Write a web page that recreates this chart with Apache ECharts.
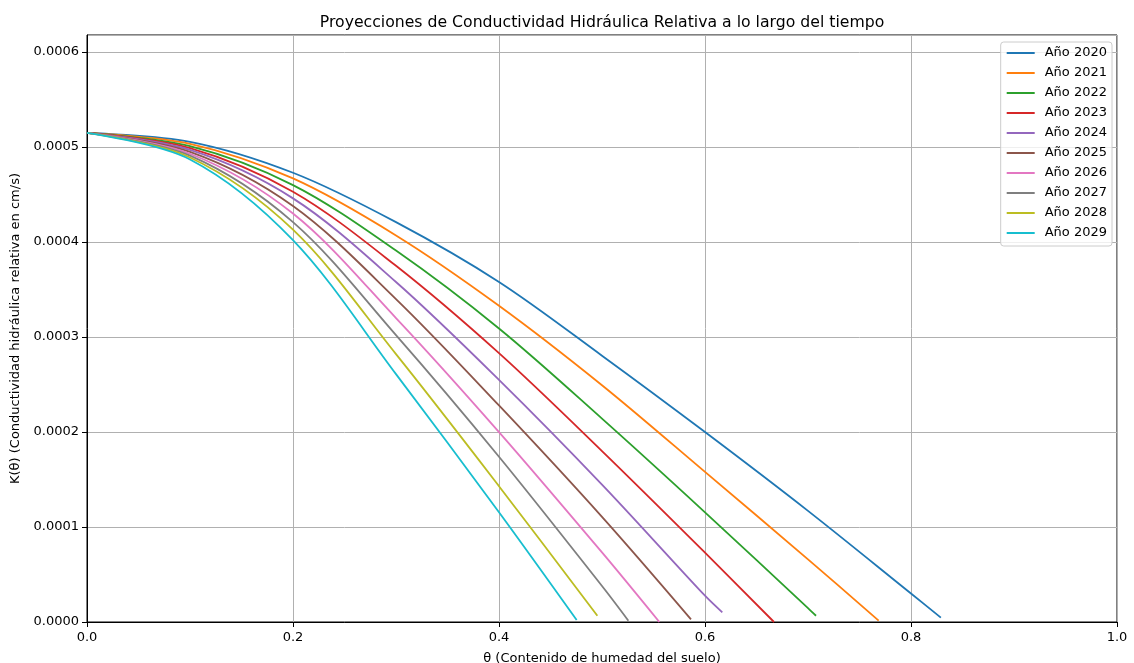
<!DOCTYPE html>
<html>
<head>
<meta charset="utf-8">
<script src="https://cdn.jsdelivr.net/npm/echarts@6/dist/echarts.min.js"></script>
<style>
html,body{margin:0;padding:0;background:#fff;}
#chart{width:1134px;height:663px;}
</style>
</head>
<body>
<div id="chart"></div>
<script>
const years = ['Año 2020','Año 2021','Año 2022','Año 2023','Año 2024','Año 2025','Año 2026','Año 2027','Año 2028','Año 2029'];
const colors = ['#1f77b4','#ff7f0e','#2ca02c','#d62728','#9467bd','#8c564b','#e377c2','#7f7f7f','#bcbd22','#17becf'];
const theta = [0, 0.1, 0.2, 0.3, 0.4, 0.5, 0.6, 0.7, 0.8];
const k2020 = [0.000515, 0.0005056, 0.000473, 0.000421, 0.000358, 0.0002804, 0.0002, 0.000117, 0.00003];
const k2021 = [0.000515, 0.0005035, 0.000467, 0.000407, 0.000333, 0.0002493, 0.000158, 0.000066];
const k2022 = [0.000515, 0.000501, 0.00046, 0.000391, 0.000309, 0.0002141, 0.0001155, 0.0000147];
const k2023 = [0.000515, 0.000499, 0.000453, 0.000375, 0.000283, 0.0001799, 0.000073];
const k2024 = [0.000515, 0.000497, 0.000446, 0.000358, 0.000255, 0.0001447, 0.0000277];
const k2025 = [0.000515, 0.000495, 0.000438, 0.00034, 0.000228, 0.0001107];
const k2026 = [0.000515, 0.000493, 0.00043, 0.00032, 0.0002, 0.0000733];
const k2027 = [0.000515, 0.000491, 0.000421, 0.000302, 0.000174, 0.0000379];
const k2028 = [0.000515, 0.000489, 0.000413, 0.000282, 0.000143];
const k2029 = [0.000515, 0.000487, 0.000402, 0.000261, 0.0001155];
const endTheta = [0.829, 0.7686, 0.7078, 0.667, 0.6168, 0.5864, 0.5557, 0.5256, 0.4955, 0.4754];
const endK = [0.0000046, 0.0000014, 0.0000066, 0.0, 0.0000102, 0.0000028, 0.0, 0.0000014, 0.0000066, 0.000002];
const xTicks = [0, 0.2, 0.4, 0.6, 0.8, 1.0];
const yTicks = [0, 0.0001, 0.0002, 0.0003, 0.0004, 0.0005, 0.0006];

const kSeries = [k2020,k2021,k2022,k2023,k2024,k2025,k2026,k2027,k2028,k2029];
const font = 'DejaVu Sans';

const series = kSeries.map((ks, i) => {
  const data = ks.map((k, j) => [theta[j], k]);
  data.push([endTheta[i], endK[i]]);
  return {
    name: years[i],
    type: 'line',
    data: data,
    smooth: 0.33,
    showSymbol: false,
    symbol: 'none',
    lineStyle: {color: colors[i], width: 1.8},
    itemStyle: {color: colors[i]},
    emphasis: {disabled: true},
    animation: false
  };
});

const chart = echarts.init(document.getElementById('chart'), null, {renderer: 'canvas'});
chart.setOption({
  animation: false,
  backgroundColor: '#ffffff',
  title: {
    text: 'Proyecciones de Conductividad Hidráulica Relativa a lo largo del tiempo',
    left: 597, top: 10, textAlign: 'center',
    textStyle: {fontFamily: font, fontSize: 15.7, fontWeight: 'normal', color: '#000'}
  },
  legend: {
    orient: 'vertical',
    right: 22, top: 42,
    icon: 'rect',
    itemWidth: 28, itemHeight: 2,
    itemGap: 0,
    padding: [1, 5, 3, 6],
    backgroundColor: 'rgba(255,255,255,0.8)',
    borderColor: '#cccccc', borderWidth: 1, borderRadius: 3,
    textStyle: {fontFamily: font, fontSize: 13, color: '#000', lineHeight: 20, padding: [0, 0, 0, 5]},
    data: years
  },
  grid: {
    left: 87, right: 17, top: 35, bottom: 41,
    outerBoundsMode: 'none', containLabel: false,
    show: true, borderColor: '#000', borderWidth: 1, backgroundColor: '#fff'
  },
  xAxis: {
    type: 'value', min: 0, max: 1, interval: 0.2,
    name: 'θ (Contenido de humedad del suelo)',
    nameLocation: 'middle', nameGap: 30,
    nameTextStyle: {fontFamily: font, fontSize: 13, color: '#000'},
    axisLine: {show: true, onZero: false, lineStyle: {color: '#000', width: 1}},
    axisTick: {show: true, length: 5, lineStyle: {color: '#000'}},
    axisLabel: {fontFamily: font, fontSize: 13, color: '#000', margin: 9,
      formatter: v => xTicks.some(t => Math.abs(t - v) < 1e-9) ? v.toFixed(1) : ''},
    splitLine: {show: true, lineStyle: {color: '#b0b0b0', width: 1}}
  },
  yAxis: {
    type: 'value', min: 0, max: 0.000618, interval: 0.0001,
    name: 'K(θ) (Conductividad hidráulica relativa en cm/s)',
    nameLocation: 'middle', nameGap: 62, nameRotate: 90,
    nameTextStyle: {fontFamily: font, fontSize: 13, color: '#000'},
    axisLine: {show: true, onZero: false, lineStyle: {color: '#000', width: 1}},
    axisTick: {show: true, length: 5, lineStyle: {color: '#000'}},
    axisLabel: {fontFamily: font, fontSize: 13, color: '#000', margin: 8, showMaxLabel: false,
      formatter: v => yTicks.some(t => Math.abs(t - v) < 1e-10) ? v.toFixed(4) : ''},
    splitLine: {show: true, lineStyle: {color: '#b0b0b0', width: 1}}
  },
  series: series
});
</script>
</body>
</html>
